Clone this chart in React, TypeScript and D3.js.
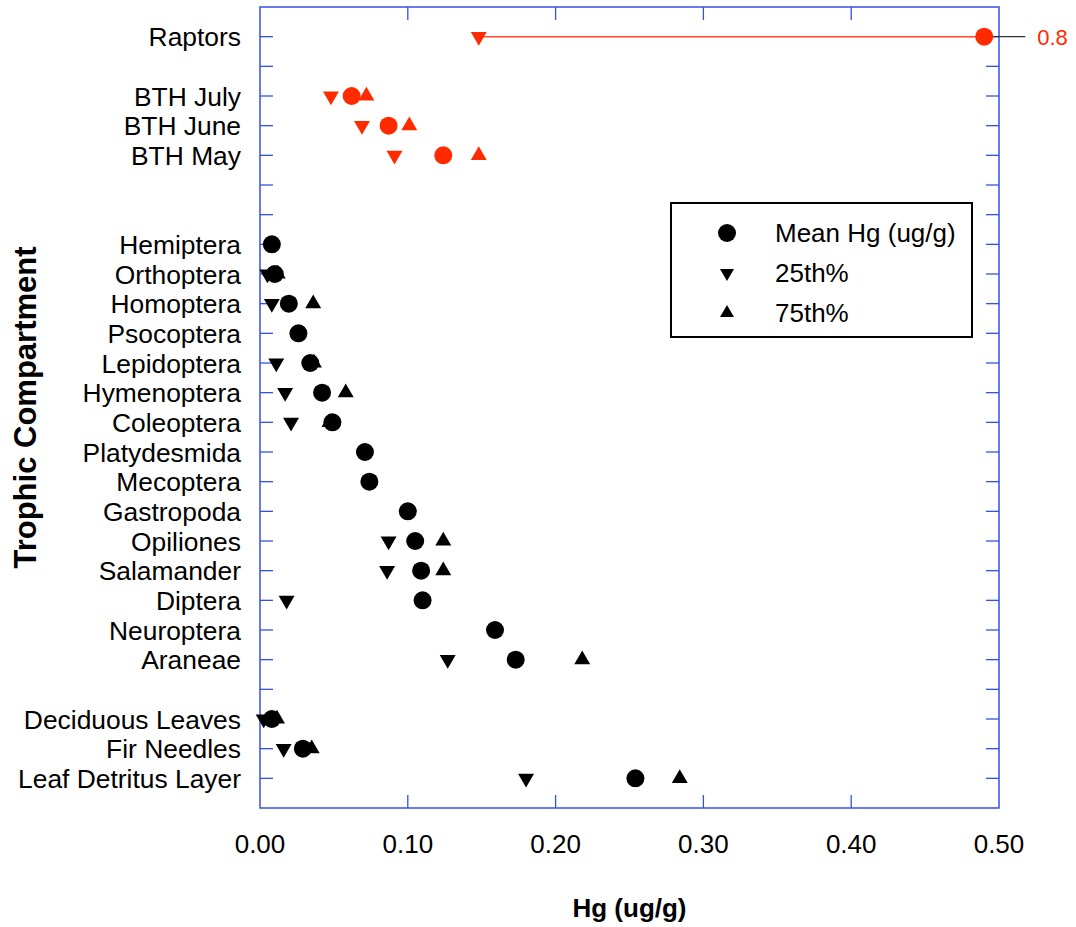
import { useEffect, useRef } from "react"
import * as d3 from "d3"

// rows top to bottom, "" = empty spacer row
const categories = [
    "Raptors", "", "BTH July", "BTH June", "BTH May", "", "",
    "Hemiptera", "Orthoptera", "Homoptera", "Psocoptera", "Lepidoptera", "Hymenoptera",
    "Coleoptera", "Platydesmida", "Mecoptera", "Gastropoda", "Opiliones", "Salamander",
    "Diptera", "Neuroptera", "Araneae", "",
    "Deciduous Leaves", "Fir Needles", "Leaf Detritus Layer",
]

const meanHg = [
    0.8, null, 0.062, 0.087, 0.124, null, null,
    0.008, 0.010, 0.0195, 0.026, 0.034, 0.042,
    0.049, 0.071, 0.074, 0.100, 0.105, 0.109,
    0.110, 0.159, 0.173, null,
    0.008, 0.029, 0.254,
]

const p25 = [
    0.148, null, 0.048, 0.069, 0.091, null, null,
    null, 0.005, 0.008, null, 0.011, 0.017,
    0.021, null, null, null, 0.087, 0.086,
    0.018, null, 0.127, null,
    0.0025, 0.016, 0.180,
]

const p75 = [
    null, null, 0.072, 0.101, 0.148, null, null,
    null, 0.012, 0.036, null, 0.0365, 0.058,
    0.047, null, null, null, 0.124, 0.124,
    null, null, 0.218, null,
    0.0115, 0.035, 0.284,
]

// first five rows are birds (red)
const birdRows = 5
const xTicks = [0, 0.1, 0.2, 0.3, 0.4, 0.5]
const axisBreak = 0.49

const legendItems = [
    { label: "Mean Hg (ug/g)", kind: "circle" },
    { label: "25th%", kind: "down" },
    { label: "75th%", kind: "up" },
]

export default function App() {
    const ref = useRef(null)

    useEffect(() => {
        const width = 1076, height = 927
        const margin = { top: 7, left: 260, right: 77, bottom: 119 }
        const blue = "#3352e4"
        const red = "#ff2a00"
        const font = "'Liberation Sans', Arial, sans-serif"

        const svg = d3.select(ref.current)
        svg.selectAll("*").remove()

        const xScale = d3.scaleLinear().domain([0, 0.5]).range([margin.left, width - margin.right])
        const yScale = d3.scaleLinear().domain([-1, categories.length]).range([margin.top, height - margin.bottom])

        const x0 = xScale(0), x1 = xScale(0.5), y0 = yScale(-1), y1 = yScale(categories.length)
        const tickLen = 13

        const frame = svg.append("g")
        frame.append("rect")
            .attr("x", x0).attr("y", y0)
            .attr("width", x1 - x0).attr("height", y1 - y0)
            .attr("fill", "none").attr("stroke", blue).attr("stroke-width", 1.5)

        const rowIdx = d3.range(categories.length)
        frame.selectAll(".ytl").data(rowIdx).join("line")
            .attr("x1", x0).attr("x2", x0 + tickLen)
            .attr("y1", (d) => yScale(d)).attr("y2", (d) => yScale(d))
            .attr("stroke", blue).attr("stroke-width", 1.3)
        frame.selectAll(".ytr").data(rowIdx).join("line")
            .attr("x1", x1).attr("x2", x1 - tickLen)
            .attr("y1", (d) => yScale(d)).attr("y2", (d) => yScale(d))
            .attr("stroke", blue).attr("stroke-width", 1.3)

        const inner = xTicks.slice(1, -1)
        frame.selectAll(".xtb").data(inner).join("line")
            .attr("x1", (d) => xScale(d)).attr("x2", (d) => xScale(d))
            .attr("y1", y1).attr("y2", y1 - tickLen)
            .attr("stroke", blue).attr("stroke-width", 1.3)
        frame.selectAll(".xtt").data(inner).join("line")
            .attr("x1", (d) => xScale(d)).attr("x2", (d) => xScale(d))
            .attr("y1", y0).attr("y2", y0 + tickLen)
            .attr("stroke", blue).attr("stroke-width", 1.3)

        // x tick labels
        svg.append("g").selectAll("text").data(xTicks).join("text")
            .attr("x", (d) => xScale(d))
            .attr("y", y1 + 45)
            .attr("text-anchor", "middle")
            .style("font-family", font).style("font-size", "26px")
            .text((d) => d3.format(".2f")(d))

        // category labels
        svg.append("g").selectAll("text").data(rowIdx.filter((i) => categories[i] !== "")).join("text")
            .attr("x", x0 - 19)
            .attr("y", (d) => yScale(d))
            .attr("dy", "0.36em")
            .attr("text-anchor", "end")
            .style("font-family", font).style("font-size", "26.4px")
            .text((d) => categories[d])

        // titles
        svg.append("text")
            .attr("x", (x0 + x1) / 2).attr("y", 917)
            .attr("text-anchor", "middle")
            .style("font-family", font).style("font-size", "26px").style("font-weight", "bold")
            .text("Hg (ug/g)")
        svg.append("text")
            .attr("transform", `translate(36, ${(y0 + y1) / 2}) rotate(-90)`)
            .attr("text-anchor", "middle")
            .style("font-family", font).style("font-size", "31px").style("font-weight", "bold")
            .text("Trophic Compartment")

        const colorOf = (i) => (i < birdRows ? red : "#000")
        const shown = (v) => Math.min(v, axisBreak)
        const tri = d3.symbol().type(d3.symbolTriangle).size(110)

        const marks = svg.append("g")

        // raptors range line + broken axis callout
        rowIdx.filter((i) => p25[i] != null && meanHg[i] != null && meanHg[i] > axisBreak).forEach((i) => {
            marks.append("line")
                .attr("x1", xScale(p25[i])).attr("x2", xScale(shown(meanHg[i])))
                .attr("y1", yScale(i)).attr("y2", yScale(i))
                .attr("stroke", "#ff4a30").attr("stroke-width", 1.5)
            marks.append("line")
                .attr("x1", xScale(shown(meanHg[i]))).attr("x2", xScale(shown(meanHg[i])) + 41)
                .attr("y1", yScale(i)).attr("y2", yScale(i))
                .attr("stroke", "#333").attr("stroke-width", 1.2)
            svg.append("text")
                .attr("x", xScale(shown(meanHg[i])) + 53)
                .attr("y", yScale(i)).attr("dy", "0.36em")
                .attr("fill", red)
                .style("font-family", font).style("font-size", "22px")
                .text(meanHg[i])
        })

        marks.selectAll(".down").data(rowIdx.filter((i) => p25[i] != null)).join("path")
            .attr("d", tri)
            .attr("transform", (d) => `translate(${xScale(shown(p25[d]))}, ${yScale(d)}) rotate(180)`)
            .attr("fill", (d) => colorOf(d))
        marks.selectAll(".up").data(rowIdx.filter((i) => p75[i] != null)).join("path")
            .attr("d", tri)
            .attr("transform", (d) => `translate(${xScale(shown(p75[d]))}, ${yScale(d)})`)
            .attr("fill", (d) => colorOf(d))
        marks.selectAll("circle").data(rowIdx.filter((i) => meanHg[i] != null)).join("circle")
            .attr("cx", (d) => xScale(shown(meanHg[d])))
            .attr("cy", (d) => yScale(d))
            .attr("r", 9)
            .attr("fill", (d) => colorOf(d))

        // legend
        const legend = svg.append("g").attr("transform", "translate(671, 203)")
        legend.append("rect")
            .attr("width", 301).attr("height", 134)
            .attr("fill", "#fff").attr("stroke", "#000").attr("stroke-width", 2)
        const rows = legend.selectAll(".item").data(legendItems).join("g")
            .attr("transform", (d, i) => `translate(56, ${30 + i * 40})`)
        rows.filter((d) => d.kind === "circle").append("circle").attr("r", 9)
        rows.filter((d) => d.kind !== "circle").append("path")
            .attr("d", d3.symbol().type(d3.symbolTriangle).size(85))
            .attr("transform", (d) => (d.kind === "down" ? "rotate(180)" : ""))
        rows.append("text")
            .attr("x", 48).attr("dy", "0.36em")
            .style("font-family", font).style("font-size", "26px")
            .text((d) => d.label)
    }, [])

    return (
        <svg ref={ref} width={1076} height={927}
            style={{ position: "absolute", left: 0, top: 0, background: "#fff" }} />
    )
}
